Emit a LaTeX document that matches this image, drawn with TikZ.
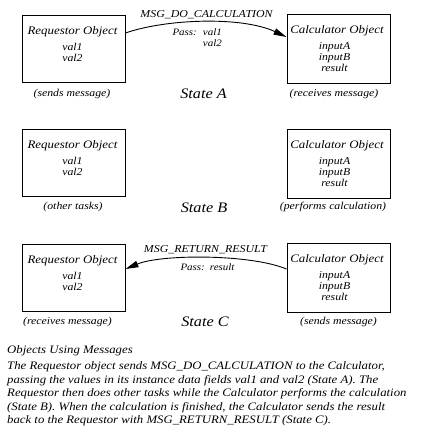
\documentclass[tikz,border=0pt]{standalone}
\usepackage{fontspec}
\setmainfont{Liberation Serif}[FakeStretch=1.12]
\usetikzlibrary{arrows.meta}
\begin{document}
\begin{tikzpicture}[x=1pt,y=-1pt,
  objbox/.style={draw, line width=1pt, inner sep=0pt, anchor=north west, minimum width=103pt},
  rbox/.style={objbox, minimum height=67pt},
  cbox/.style={objbox, minimum height=69pt},
  ttl/.style={font=\fontsize{11.5}{13}\selectfont\itshape, inner sep=0pt, anchor=base},
  fld/.style={font=\fontsize{10.5}{11}\selectfont\itshape, inner sep=0pt, anchor=base},
  sublbl/.style={font=\fontsize{10.5}{12}\selectfont\itshape, inner sep=0pt, anchor=base},
  statelbl/.style={font=\fontsize{14.5}{16}\selectfont\itshape, inner sep=0pt, anchor=base},
  msglbl/.style={font=\fontsize{10.6}{12}\selectfont\itshape, inner sep=0pt, anchor=base},
  passlbl/.style={font=\fontsize{9.8}{11}\selectfont\itshape, inner sep=0pt},
  captxt/.style={font=\fontsize{11.4}{13}\selectfont\itshape, inner sep=0pt, anchor=base west},
  msgarrow/.style={line width=0.9pt, -{Triangle[length=13pt,width=6.5pt]}}]
\useasboundingbox (0,0) rectangle (432,439);

% ---------- State A ----------
\node[rbox] (rA) at (21.5,14.5) {};
\node[ttl] (rAt) at (72.5,34.5) {Requestor Object};
\node[fld] (rAv1) at (72.5,50.5) {val1};
\node[fld] (rAv2) at (72.5,61.5) {val2};
\node[cbox] (cA) at (286.5,13.5) {};
\node[ttl] (cAt) at (337,33.5) {Calculator Object};
\node[fld] (cAf1) at (334.5,49) {inputA};
\node[fld] (cAf2) at (334.5,60) {inputB};
\node[fld] (cAf3) at (334.5,71) {result};
\node[sublbl] (lA1) at (72,96.5) {(sends message)};
\node[sublbl] (lA2) at (334,96.5) {(receives message)};
\node[statelbl] (sA) at (203.5,98.3) {State A};
\draw[msgarrow] ([yshift=15.5pt]rA.east) .. controls +(40,-14) and +(-45,-21) .. ([yshift=11.5pt]cA.west);
\node[msglbl] (mA) at (206.5,17.5) {MSG\_DO\_CALCULATION};
\node[passlbl, anchor=base east] (pA1) at (222,35.5) {Pass:\hspace{6pt}val1};
\node[passlbl, anchor=base east] (pA2) at (222,46.5) {val2};

% ---------- State B ----------
\node[rbox] (rB) at (21.5,128.5) {};
\node[ttl] (rBt) at (72.5,148.5) {Requestor Object};
\node[fld] (rBv1) at (72.5,164.5) {val1};
\node[fld] (rBv2) at (72.5,175.5) {val2};
\node[cbox] (cB) at (286.5,128.5) {};
\node[ttl] (cBt) at (337,148.5) {Calculator Object};
\node[fld] (cBf1) at (334.5,164) {inputA};
\node[fld] (cBf2) at (334.5,175) {inputB};
\node[fld] (cBf3) at (334.5,186) {result};
\node[sublbl] (lB1) at (73,209.5) {(other tasks)};
\node[sublbl] (lB2) at (333,209.5) {(performs calculation)};
\node[statelbl] (sB) at (204,212.5) {State B};

% ---------- State C ----------
\node[rbox] (rC) at (21.5,243.5) {};
\node[ttl] (rCt) at (72.5,263.5) {Requestor Object};
\node[fld] (rCv1) at (72.5,279.5) {val1};
\node[fld] (rCv2) at (72.5,290.5) {val2};
\node[cbox] (cC) at (286.5,242.5) {};
\node[ttl] (cCt) at (337,262.5) {Calculator Object};
\node[fld] (cCf1) at (334.5,278) {inputA};
\node[fld] (cCf2) at (334.5,289) {inputB};
\node[fld] (cCf3) at (334.5,300) {result};
\node[sublbl] (lC1) at (67.5,324.5) {(receives message)};
\node[sublbl] (lC2) at (338.5,324) {(sends message)};
\node[statelbl] (sC) at (205,326) {State C};
\draw[msgarrow] ([yshift=8.5pt]cC.west) .. controls +(-36,-15) and +(36,-15) .. ([yshift=8.5pt]rC.east);
\node[msglbl] (mC) at (205.5,252.5) {MSG\_RETURN\_RESULT};
\node[passlbl, anchor=base] (pC) at (207.5,270) {Pass:\hspace{5pt}result};

% ---------- Caption ----------
\node[captxt] (c0) at (7,353.5) {Objects Using Messages};
\node[captxt] (c1) at (7,369.5) {The Requestor object sends MSG\_DO\_CALCULATION to the Calculator,};
\node[captxt] (c2) at (7,383) {passing the values in its instance data fields val1 and val2 (State A). The};
\node[captxt] (c3) at (7,396.5) {Requestor then does other tasks while the Calculator performs the calculation};
\node[captxt] (c4) at (7,410) {(State B). When the calculation is finished, the Calculator sends the result};
\node[captxt] (c5) at (7,423.5) {back to the Requestor with MSG\_RETURN\_RESULT (State C).};
\end{tikzpicture}
\end{document}
